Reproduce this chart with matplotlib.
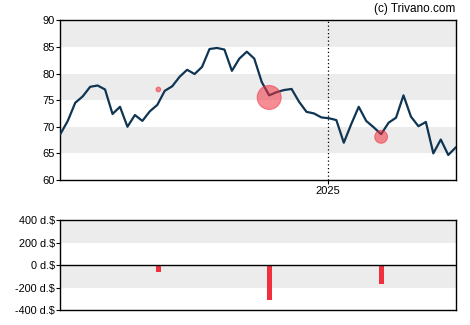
import numpy as np
import pandas as pd
import matplotlib
matplotlib.use("Agg")
import matplotlib.pyplot as plt
import matplotlib.dates as mdates

plt.rcParams['font.family'] = ['Liberation Sans', 'DejaVu Sans']

# weekly closing prices
start = "2024-04-25"
prices = [68.6, 71.1, 74.5, 75.7, 77.5, 77.75, 77.0, 72.4, 73.75, 70.0,
          72.2, 71.1, 72.9, 74.1, 76.75, 77.6, 79.4, 80.7, 79.9, 81.25,
          84.6, 84.8, 84.5, 80.5, 82.8, 84.1, 82.8, 78.4, 75.9, 76.5,
          76.9, 77.1, 74.7, 72.8, 72.5, 71.75, 71.6, 71.25, 67.0, 70.5,
          73.75, 71.1, 69.9, 68.6, 70.75, 71.7, 75.9, 71.9, 70.1, 70.9,
          65.0, 67.6, 64.7, 66.1]
dates = pd.date_range(start, periods=len(prices), freq="7D")

# insider trades
trade_dates = pd.to_datetime(["2024-07-26", "2024-11-07", "2025-02-20"])
trade_prices = [77.0, 75.5, 68.1]
trade_values = [-60, -307, -164]

line_col = "#0f3553"
red = "#f0303f"
band = "#ececec"

fig = plt.figure(figsize=(4.7, 3.25), dpi=100)
ax = fig.add_axes([0.1283, 0.4462, 0.8413, 0.4914])
ax2 = fig.add_axes([0.1283, 0.0462, 0.8413, 0.276])

# top chart
for lo in (65, 75, 85):
    ax.axhspan(lo, lo + 5, color=band, lw=0, zorder=0)
ax.plot(dates, prices, color=line_col, lw=1.6, zorder=3)
radius = [abs(v) * 0.039 for v in trade_values]
sizes = [(2 * r * 0.72) ** 2 for r in radius]
ax.scatter(trade_dates, trade_prices, s=sizes, color=red, alpha=0.55,
           edgecolors=red, linewidths=0.8, zorder=4)
ax.axvline(pd.Timestamp("2025-01-01"), color="black", ls=(0, (1, 2)), lw=0.9, zorder=2)
ax.set_xlim(dates[0], dates[-1])
ax.set_ylim(60, 90)
ax.set_yticks(range(60, 91, 5))
ax.set_xticks([pd.Timestamp("2025-01-01")])
ax.xaxis.set_major_formatter(mdates.DateFormatter("%Y"))
ax.tick_params(labelsize=8, length=3, width=0.8, pad=1)
for s in ax.spines.values():
    s.set_linewidth(1.0)

fig.text(0.968, 0.972, "(c) Trivano.com", ha="right", va="center", fontsize=8.5)

# bottom chart
for lo in (-200, 200):
    ax2.axhspan(lo, lo + 200, color=band, lw=0, zorder=0)
ax2.bar(trade_dates, trade_values, width=4.5, color=red, zorder=3)
ax2.axhline(0, color="black", lw=1.0, zorder=4)
ax2.set_xlim(dates[0], dates[-1])
ax2.set_ylim(-400, 400)
ax2.set_yticks([-400, -200, 0, 200, 400])
ax2.set_yticklabels(["-400 d.$", "-200 d.$", "0 d.$", "200 d.$", "400 d.$"])
ax2.set_xticks([])
ax2.tick_params(labelsize=7.8, length=3, width=0.8, pad=1)
for s in ax2.spines.values():
    s.set_linewidth(1.0)

fig.savefig("out.png", dpi=100)
